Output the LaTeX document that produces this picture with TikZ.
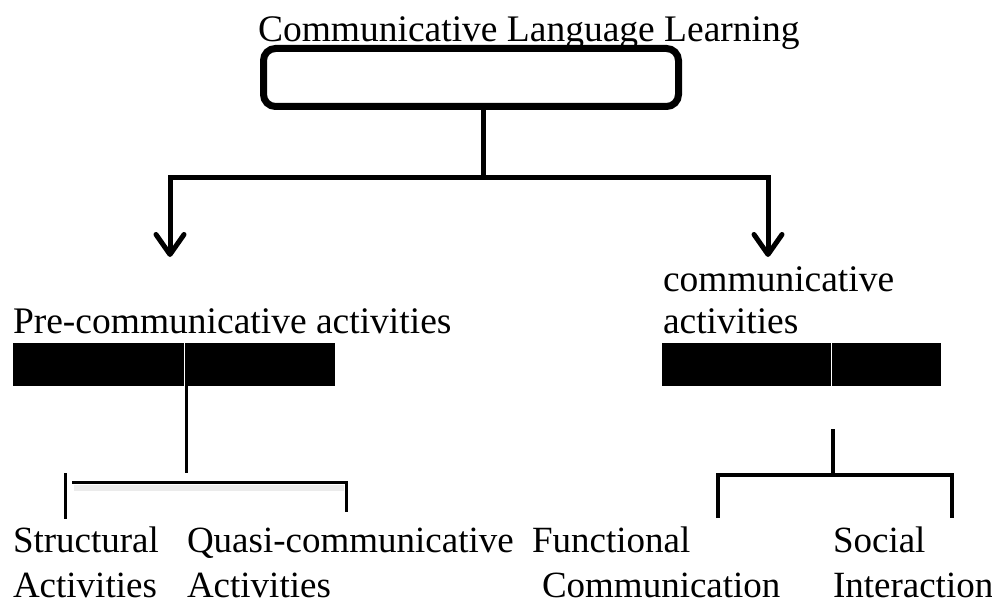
\documentclass[tikz,border=0pt]{standalone}
\usepackage{fontspec}
\setmainfont{Liberation Serif}
\usetikzlibrary{arrows.meta}
\begin{document}
\begin{tikzpicture}[x=1pt,y=-1pt,
  lbl/.style={font=\fontsize{37.5}{42}\selectfont, inner sep=0pt, outer sep=0pt, anchor=base west},
  lblb/.style={font=\fontsize{37}{42}\selectfont, inner sep=0pt, outer sep=0pt, anchor=base west},
  bar/.style={fill=black, draw=none, inner sep=0pt, outer sep=0pt, anchor=north west, minimum height=43pt},
  topbox/.style={draw=black, line width=7pt, rounded corners=12pt, inner sep=0pt, outer sep=0pt,
    anchor=north west, minimum width=415pt, minimum height=58pt},
  conn/.style={draw=black, line width=5pt},
  arr/.style={conn, -{Straight Barb[length=20pt, width=28pt, line cap=round, line join=round]}},
  thinconn/.style={draw=black, line width=3pt},
  midconn/.style={draw=black, line width=4pt}]
\useasboundingbox (0,0) rectangle (992,607);

% title and top box
\node[lbl] (title) at (258,42) {Communicative Language Learning};
\node[topbox] (clt) at (263.5,48.5) {};

% top connectors
\coordinate (jt) at (483,177);
\coordinate (tipL) at (170,257);
\coordinate (tipR) at (768,257);
\draw[conn] (clt.south -| jt) -- (jt);
\draw[arr] (jt) -| (tipL);
\draw[arr] (jt) -| (tipR);

% second level labels
\node[lbl] (pre) at (13,333) {Pre-communicative activities};
\node[lbl] (comm1) at (663,291) {communicative};
\node[lbl] (comm2) at (663,333) {activities};

% black bars
\node[bar, minimum width=170.7pt] (barL1) at (13,343) {};
\node[bar, minimum width=150.3pt] (barL2) at (184.7,343) {};
\node[bar, minimum width=168.7pt] (barR1) at (662,343) {};
\node[bar, minimum width=109.3pt] (barR2) at (831.7,343) {};

% left lower connectors
\coordinate (lv) at (186.3,473);
\draw[thinconn] (lv |- barL2.south) -- (lv);
\coordinate (lbL) at (72,482);
\coordinate (lbR) at (346,482);
\coordinate (lbRend) at (346,512);
\coordinate (lsTop) at (65,473);
\coordinate (lsEnd) at (65,519);
\draw[draw=black!8, line width=6pt] (74,488) -- (344,488);
\draw[thinconn] (lbL) -- (lbR) -- (lbRend);
\draw[thinconn] (lsTop) -- (lsEnd);

% right lower connectors
\coordinate (rv) at (833,429);
\coordinate (rj) at (833,475);
\coordinate (rjL) at (718,475);
\coordinate (rjR) at (952,475);
\coordinate (rL) at (718,518);
\coordinate (rR) at (952,518);
\draw[midconn] (rv) -- (rj);
\draw[midconn] (rL) -- (rjL) -- (rjR) -- (rR);

% bottom labels
\node[lblb] (struct1) at (13,552) {Structural};
\node[lblb] (struct2) at (13,597) {Activities};
\node[lblb] (quasi1) at (187,552) {Quasi-communicative};
\node[lblb] (quasi2) at (187,597) {Activities};
\node[lblb] (func1) at (532,552) {Functional};
\node[lblb] (func2) at (542,597) {Communication};
\node[lblb] (soc1) at (833,552) {Social};
\node[lblb] (soc2) at (833,597) {Interaction};
\end{tikzpicture}
\end{document}
